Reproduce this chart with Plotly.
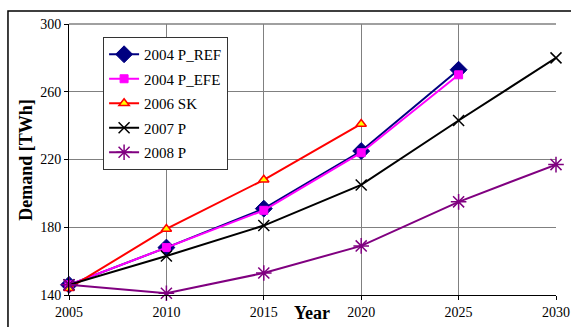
import plotly.graph_objects as go

years = [2005, 2010, 2015, 2020, 2025, 2030]
ref_2004 = [146, 168, 191, 225, 273]
efe_2004 = [146, 168, 190, 224, 270]
sk_2006 = [144, 179, 208, 241]
p_2007 = [146, 163, 181, 205, 243, 280]
p_2008 = [146, 141, 153, 169, 195, 217]
y_ticks = [140, 180, 220, 260, 300]

FONT = "'Liberation Serif', 'Times New Roman', Times, serif"

fig = go.Figure()

def add(name, ys, color, symbol, size, fill=None, lw=1):
    fig.add_trace(go.Scatter(
        x=years[:len(ys)], y=ys, name=name, mode="lines+markers",
        legendgroup=name,
        line=dict(color=color, width=2),
        marker=dict(symbol=symbol, size=size, color=fill or color,
                    line=dict(color=color, width=lw)),
        cliponaxis=False))

add("2004 P_REF", ref_2004, "#000080", "diamond", 13)
add("2004 P_EFE", efe_2004, "#FF00FF", "square", 8)
add("2006 SK", sk_2006, "#FF0000", "triangle-up", 9, fill="#FFFF00", lw=1.5)
add("2007 P", p_2007, "#000000", "x-thin-open", 11, lw=1.5)
add("2008 P", p_2008, "#800080", "asterisk-open", 13, lw=1.5)

fig.update_layout(
    width=571, height=327,
    margin=dict(l=69, r=15, t=24, b=32, autoexpand=False),
    paper_bgcolor="white", plot_bgcolor="white",
    font=dict(family=FONT, size=14, color="black"),
    showlegend=True,
    legend=dict(x=0.07, y=0.952, xanchor="left", yanchor="top",
                bgcolor="white", bordercolor="#333333", borderwidth=1,
                font=dict(family=FONT, size=15), tracegroupgap=2,
                itemwidth=30),
    xaxis=dict(range=[2005, 2030], tickvals=years, showgrid=True,
               gridcolor="#808080", gridwidth=1, zeroline=False,
               showline=True, linecolor="black", linewidth=1,
               ticks="outside", ticklen=4, tickcolor="black", automargin=False,
               tickfont=dict(family=FONT, size=14)),
    yaxis=dict(range=[140, 300], tickvals=y_ticks, showgrid=True,
               gridcolor="#808080", gridwidth=1, zeroline=False,
               showline=True, linecolor="black", linewidth=1,
               ticks="outside", ticklen=4, tickcolor="black", automargin=False,
               tickfont=dict(family=FONT, size=14)),
)

# darker 220 gridline and top border
fig.add_shape(type="line", xref="paper", yref="y", x0=0, x1=1, y0=220, y1=220,
              line=dict(color="black", width=1), layer="below")
fig.add_shape(type="line", xref="paper", yref="paper", x0=0, x1=1, y0=1, y1=1,
              line=dict(color="#808080", width=1.5), layer="below")

# outer frame
fig.add_shape(type="rect", xref="paper", yref="paper",
              x0=-0.1253, x1=1.2, y0=-0.3, y1=1.048,
              line=dict(color="black", width=1.5))

fig.add_annotation(text="<b>Year</b>", xref="paper", yref="paper",
                   x=0.499, y=-0.066, xanchor="center", yanchor="middle",
                   showarrow=False, font=dict(family=FONT, size=18))
fig.add_annotation(text="<b>Demand [TWh]</b>", xref="paper", yref="paper",
                   x=-0.090, y=0.50, xanchor="center", yanchor="middle",
                   textangle=-90, showarrow=False, font=dict(family=FONT, size=18))

fig.write_html("out.html")
